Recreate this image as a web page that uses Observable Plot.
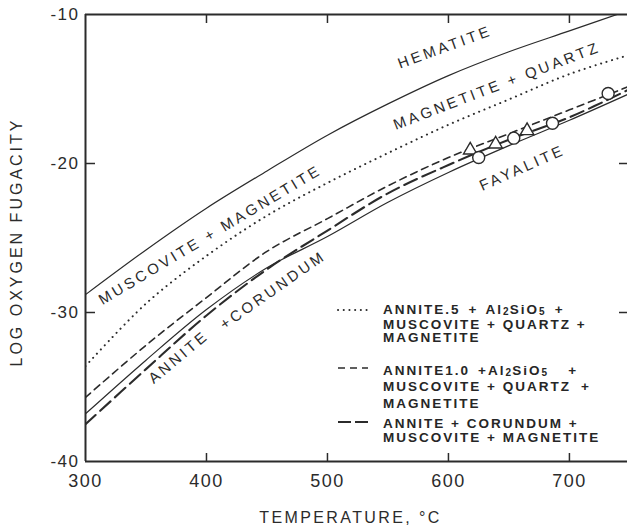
<!DOCTYPE html>
<html>
<head>
<meta charset="utf-8">
<script src="https://cdn.jsdelivr.net/npm/d3@7"></script>
<script src="https://cdn.jsdelivr.net/npm/@observablehq/plot@0.6"></script>
<style>
  html, body { margin: 0; padding: 0; background: #fff; }
  #chart { position: relative; width: 627px; height: 530px; overflow: hidden;
           font-family: "Liberation Sans", Arial, sans-serif; color: #262626; }
  #chart svg { display: block; }
  .line { position: absolute; left: 383px; font-weight: bold; font-size: 13.5px;
          letter-spacing: 2px; white-space: nowrap; height: 13px; line-height: 13px; }
  .line sub { font-size: 10px; line-height: 0; vertical-align: -0.5px; letter-spacing: 1.2px; }
  .gap { display: inline-block; }
  .sample { position: absolute; left: 336px; }
</style>
</head>
<body>
<div id="chart"></div>
<script>
// Temperature (°C) at which each boundary curve is tabulated
const temps = [300, 350, 400, 450, 500, 550, 600, 650, 700, 750];

// log fO2 along each boundary
const hematiteMagnetite = [-28.8, -25.8, -23.0, -20.5, -18.1, -16.0, -14.1, -12.5, -11.1, -9.7];
const annite05 = [-33.6, -29.4, -26.2, -23.5, -21.3, -19.3, -17.4, -15.7, -14.0, -12.7];
const annite10 = [-35.7, -32.2, -29.0, -25.9, -23.7, -21.5, -19.6, -18.0, -16.4, -14.8];
const fayalite = [-36.8, -33.2, -29.8, -27.0, -24.9, -22.6, -20.6, -18.8, -17.1, -15.3];
const anniteCorundum = [-37.5, -33.8, -30.2, -27.1, -24.5, -22.0, -20.1, -18.4, -16.9, -15.0];

// Experimental brackets
const triangleT = [618, 639, 665];
const triangleF = [-19.1, -18.7, -17.8];
const circleT = [625, 654, 686, 732];
const circleF = [-19.6, -18.3, -17.3, -15.3];

// Stability-field labels: text, temperature, log fO2, angle
const fieldNames = ["HEMATITE", "MAGNETITE + QUARTZ", "MUSCOVITE + MAGNETITE", "ANNITE", "+CORUNDUM", "FAYALITE"];
const fieldT = [597, 640, 403, 377, 455, 661];
const fieldF = [-12.2, -14.8, -24.8, -33.0, -28.5, -20.3];
const fieldAngle = [-20, -21, -31, -40, -35, -24];

// Axis ticks and titles
const xTicks = [300, 400, 500, 600, 700];
const yTicks = [-10, -20, -30, -40];
const xInnerTicks = [400, 500, 600, 700];
const yInnerTicks = [-20, -30];
const xTitle = "TEMPERATURE, °C";
const yTitle = "LOG OXYGEN FUGACITY";

// Legend entries (wide gaps as in the lettering)
const sp = (w) => `<span class="gap" style="width:${w}px"></span>`;
const legendLines = [
  [`ANNITE.5${sp(8)}+${sp(7)}Al<sub>2</sub>SiO<sub>5</sub>${sp(9)}+`, `MUSCOVITE + QUARTZ +`, `MAGNETITE`],
  [`ANNITE1.0${sp(8)}+Al<sub>2</sub>SiO<sub>5</sub>${sp(20)}+`, `MUSCOVITE + QUARTZ${sp(10)}+`, `MAGNETITE`],
  [`ANNITE + CORUNDUM +`, `MUSCOVITE + MAGNETITE`]
];

const ink = "#2b2b2b";
const series = (ys) => temps.map((t, i) => ({t, f: ys[i]}));
const points = (ts, fs) => ts.map((t, i) => ({t, f: fs[i]}));
const fields = fieldNames.map((name, i) => ({name, t: fieldT[i], f: fieldF[i], a: fieldAngle[i]}));

const width = 627, height = 530;
const mt = 14, mb = 69, ml = 85, mr = 0;
const fw = width - ml - mr, fh = height - mt - mb;

const dotted = {strokeWidth: 2, strokeDasharray: "0.1,5.6", strokeLinecap: "round"};
const shortDash = {strokeWidth: 1.6, strokeDasharray: "7,5"};
const longDash = {strokeWidth: 2.1, strokeDasharray: "14,6"};

const plot = Plot.plot({
  width, height,
  marginTop: mt, marginBottom: mb, marginLeft: ml, marginRight: mr,
  style: {fontFamily: "'Liberation Sans', Arial, sans-serif", color: ink, background: "#fff"},
  x: {domain: [300, 748]},
  y: {domain: [-40, -10]},
  marks: [
    Plot.axisX({ticks: xTicks, tickSize: 0, tickPadding: 13, fontSize: 18, label: null, tickFormat: d => String(d)}),
    Plot.axisY({ticks: yTicks, tickSize: 0, tickPadding: 6, fontSize: 17, label: null, tickFormat: d => String(d)}),
    // frame: left, top, bottom
    Plot.ruleX([300], {stroke: ink, strokeWidth: 2}),
    Plot.ruleY([-10, -40], {stroke: ink, strokeWidth: 2}),
    // inward ticks
    Plot.tickX(xInnerTicks, {x: d => d, insetTop: fh - 8, stroke: ink, strokeWidth: 1.5}),
    Plot.tickX(xInnerTicks, {x: d => d, insetBottom: fh - 9, stroke: ink, strokeWidth: 1.5}),
    Plot.tickY(yInnerTicks, {y: d => d, insetRight: fw - 10, stroke: ink, strokeWidth: 1.5}),
    Plot.tickY(yInnerTicks, {y: d => d, insetLeft: fw - 8, stroke: ink, strokeWidth: 1.5}),
    // boundary curves
    Plot.line(series(hematiteMagnetite), {x: "t", y: "f", curve: "catmull-rom", stroke: ink, strokeWidth: 1.2, clip: true}),
    Plot.line(series(annite05), {x: "t", y: "f", curve: "catmull-rom", stroke: ink, ...dotted, clip: true}),
    Plot.line(series(annite10), {x: "t", y: "f", curve: "catmull-rom", stroke: ink, ...shortDash, clip: true}),
    Plot.line(series(fayalite), {x: "t", y: "f", curve: "catmull-rom", stroke: ink, strokeWidth: 1.2, clip: true}),
    Plot.line(series(anniteCorundum), {x: "t", y: "f", curve: "catmull-rom", stroke: ink, ...longDash, clip: true}),
    // experimental points
    Plot.dot(points(triangleT, triangleF), {x: "t", y: "f", symbol: "triangle", r: 5, fill: "#fff", stroke: ink, strokeWidth: 1.4}),
    Plot.dot(points(circleT, circleF), {x: "t", y: "f", symbol: "circle", r: 6, fill: "#fff", stroke: ink, strokeWidth: 1.4}),
    // stability-field labels
    Plot.text(fields, {x: "t", y: "f", text: "name", rotate: "a", fontSize: 15, fill: ink}),
    // axis titles
    Plot.text([xTitle], {frameAnchor: "bottom", text: d => d, lineAnchor: "middle", dy: 56, dx: -6, fontSize: 16, fill: ink}),
    Plot.text([yTitle], {frameAnchor: "left", text: d => d, textAnchor: "middle", dx: -69, dy: 4, rotate: -90, fontSize: 16, fill: ink})
  ]
});

// letter spacing of the hand-lettered style
d3.select(plot).selectAll("text").each(function () {
  const s = this.textContent;
  if (fieldNames.includes(s)) this.setAttribute("letter-spacing", "3px");
  else if (s === xTitle) this.setAttribute("letter-spacing", "2.4px");
  else if (s === yTitle) this.setAttribute("letter-spacing", "3px");
  else if (/^-?\d+$/.test(s)) this.setAttribute("letter-spacing", "1.5px");
});

const chart = document.getElementById("chart");
chart.appendChild(plot);

// Legend: line samples and text, one block per curve
const legendStyle = [dotted, shortDash, {strokeWidth: 2, strokeDasharray: "13,4"}];
const sampleCenter = [310, 368, 422];
const lineCenters = [[309.5, 324, 337.5], [370, 386, 403], [423, 437]];
legendLines.forEach((lines, k) => {
  const st = legendStyle[k];
  const svg = document.createElementNS("http://www.w3.org/2000/svg", "svg");
  svg.setAttribute("class", "sample");
  svg.setAttribute("width", 34);
  svg.setAttribute("height", 8);
  svg.style.top = (sampleCenter[k] - 4) + "px";
  svg.innerHTML = `<line x1="2" x2="32" y1="4" y2="4" stroke="${ink}" stroke-width="${st.strokeWidth}" stroke-dasharray="${st.strokeDasharray}" stroke-linecap="${st.strokeLinecap || "butt"}"/>`;
  chart.appendChild(svg);
  lines.forEach((html, j) => {
    const div = document.createElement("div");
    div.className = "line";
    div.style.top = (lineCenters[k][j] - 6.5) + "px";
    div.innerHTML = html;
    chart.appendChild(div);
  });
});
</script>
</body>
</html>
